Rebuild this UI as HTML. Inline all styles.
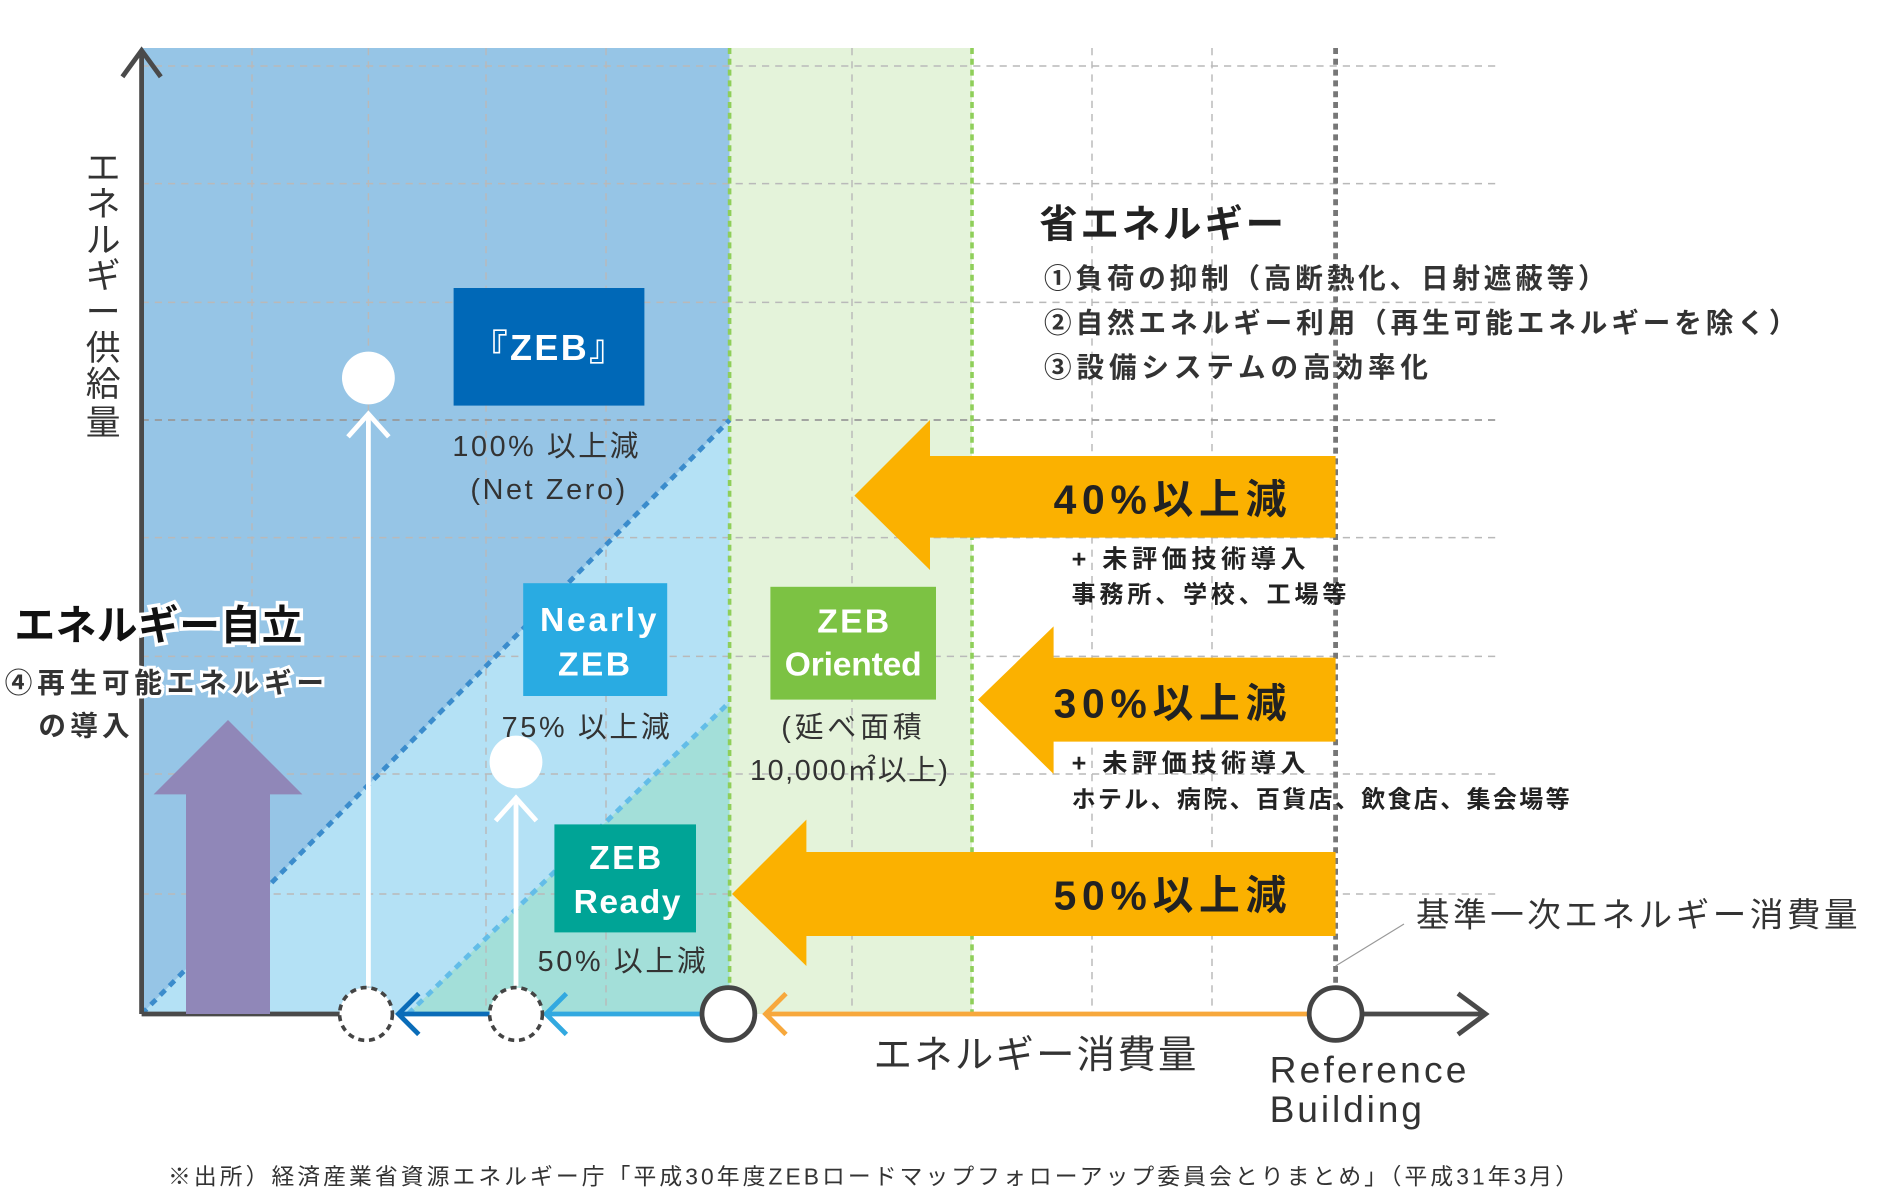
<!DOCTYPE html>
<html><head><meta charset="utf-8"><style>
html,body{margin:0;padding:0;background:#fff;}
svg{display:block}
text{font-family:"Liberation Sans","Noto Sans CJK JP",sans-serif;}
</style></head><body>
<svg width="1880" height="1200" viewBox="0 0 1566.67 1000" xmlns="http://www.w3.org/2000/svg">
<rect x="118" y="40" width="490" height="805" fill="#96c5e6"/>
<polygon points="118,845 608,350 608,845" fill="#b4e1f5"/>
<polygon points="340,845 608,585 608,845" fill="#a3dfd9"/>
<rect x="608" y="40" width="202" height="805" fill="#e4f3da"/>
<g stroke="#b9b9b9" stroke-width="1.2" stroke-dasharray="6,5" fill="none">
<line x1="118" y1="55" x2="1248" y2="55"/><line x1="118" y1="153" x2="1248" y2="153"/>
<line x1="118" y1="252" x2="1248" y2="252"/>
<line x1="118" y1="448" x2="1248" y2="448"/><line x1="118" y1="547" x2="1248" y2="547"/>
<line x1="118" y1="645" x2="1248" y2="645"/><line x1="118" y1="745" x2="1248" y2="745"/>
<line x1="210" y1="40" x2="210" y2="845"/><line x1="307" y1="40" x2="307" y2="845"/>
<line x1="405" y1="40" x2="405" y2="845"/><line x1="505" y1="40" x2="505" y2="845"/>
<line x1="710" y1="40" x2="710" y2="845"/><line x1="910" y1="40" x2="910" y2="845"/>
<line x1="1010" y1="40" x2="1010" y2="845"/>
</g>
<line x1="118" y1="350" x2="1248" y2="350" stroke="#999" stroke-width="1.5" stroke-dasharray="6,5"/>
<line x1="608" y1="40" x2="608" y2="845" stroke="#8fcf5a" stroke-width="3" stroke-dasharray="5,4"/>
<line x1="810" y1="40" x2="810" y2="845" stroke="#8fcf5a" stroke-width="3" stroke-dasharray="5,4"/>
<line x1="1113" y1="40" x2="1113" y2="820" stroke="#777" stroke-width="4" stroke-dasharray="5,4"/>
<line x1="118" y1="845" x2="608" y2="350" stroke="#3b8ccc" stroke-width="4" stroke-dasharray="6,5"/>
<line x1="340" y1="845" x2="608" y2="585" stroke="#63bde8" stroke-width="4" stroke-dasharray="6,5"/>
<line x1="1113" y1="805" x2="1170" y2="770" stroke="#999" stroke-width="1"/>
<path d="M118,845 V42 M102,64 L118,42 L134,64" stroke="#4a4a4a" stroke-width="4" fill="none"/>
<line x1="118" y1="845" x2="285" y2="845" stroke="#4a4a4a" stroke-width="4"/>
<path d="M1135,845 H1238 M1215,828 L1238,845 L1215,862" stroke="#4a4a4a" stroke-width="4" fill="none"/>
<path d="M640,845 H1090 M655,828 L638,845 L655,862" stroke="#f7a83c" stroke-width="4" fill="none"/>
<path d="M455,845 H585 M472,828 L455,845 L472,862" stroke="#32a9e0" stroke-width="4" fill="none"/>
<path d="M332,845 H408 M349,828 L332,845 L349,862" stroke="#0a6cb8" stroke-width="4" fill="none"/>
<polygon points="190,600 252,662 225,662 225,845 155,845 155,662 128,662" fill="#9087b8"/>
<path d="M307,822 V345 M290,364 L307,345 L324,364" stroke="#fff" stroke-width="4" fill="none"/>
<circle cx="307" cy="315" r="22" fill="#fff"/>
<path d="M430,822 V665 M413,684 L430,665 L447,684" stroke="#fff" stroke-width="4" fill="none"/>
<circle cx="430" cy="635" r="22" fill="#fff"/>
<circle cx="305" cy="845" r="22" fill="#fff" stroke="#444" stroke-width="3" stroke-dasharray="5,4"/>
<circle cx="430" cy="845" r="22" fill="#fff" stroke="#444" stroke-width="3" stroke-dasharray="5,4"/>
<circle cx="607" cy="845" r="22" fill="#fff" stroke="#444" stroke-width="4"/>
<circle cx="1113" cy="845" r="22" fill="#fff" stroke="#444" stroke-width="4"/>
<polygon points="712,413 775,350 775,380 1113,380 1113,448 775,448 775,475" fill="#fbb100"/>
<polygon points="815,583 878,522 878,548 1113,548 1113,618 878,618 878,645" fill="#fbb100"/>
<polygon points="610,745 672,683 672,710 1113,710 1113,780 672,780 672,805" fill="#fbb100"/>
<g font-weight="bold" font-size="34" fill="#222">
<text x="878" y="428" textLength="194">40%以上減</text>
<text x="878" y="598" textLength="194">30%以上減</text>
<text x="878" y="758" textLength="194">50%以上減</text>
</g>
<g font-weight="bold" font-size="21" fill="#222">
<text x="893" y="473" textLength="195">+ 未評価技術導入</text>
<text x="893" y="643" textLength="195">+ 未評価技術導入</text>
<text x="893" y="502" font-size="20" textLength="229">事務所、学校、工場等</text>
<text x="893" y="673" font-size="20" textLength="415">ホテル、病院、百貨店、飲食店、集会場等</text>
</g>
<rect x="378" y="240" width="159" height="98" fill="#0068b7"/>
<text x="458" y="300" font-size="30" font-weight="bold" fill="#fff" text-anchor="middle" letter-spacing="2">『ZEB』</text>
<rect x="436" y="486" width="120" height="94" fill="#29abe2"/>
<text x="450" y="526" font-size="28" font-weight="bold" fill="#fff" textLength="97">Nearly</text>
<text x="496" y="563" font-size="28" font-weight="bold" fill="#fff" text-anchor="middle" letter-spacing="2">ZEB</text>
<rect x="642" y="489" width="138" height="94" fill="#7cc243"/>
<text x="712" y="527" font-size="28" font-weight="bold" fill="#fff" text-anchor="middle" letter-spacing="2">ZEB</text>
<text x="654" y="563" font-size="28" font-weight="bold" fill="#fff" textLength="114">Oriented</text>
<rect x="462" y="687" width="118" height="90" fill="#00a496"/>
<text x="522" y="724" font-size="28" font-weight="bold" fill="#fff" text-anchor="middle" letter-spacing="2">ZEB</text>
<text x="478" y="761" font-size="28" font-weight="bold" fill="#fff" textLength="89">Ready</text>
<g font-size="24" fill="#333">
<text x="377" y="380" textLength="155">100% 以上減</text>
<text x="392" y="416" textLength="129">(Net Zero)</text>
<text x="418" y="614" textLength="140">75% 以上減</text>
<text x="448" y="809" textLength="140">50% 以上減</text>
<text x="651" y="614" textLength="117">(延べ面積</text>
<text x="625" y="650" textLength="165">10,000㎡以上)</text>
</g>
<text x="866" y="198" font-size="32" font-weight="bold" fill="#222" textLength="204">省エネルギー</text>
<g font-size="23" font-weight="bold" fill="#333">
<text x="870" y="240" textLength="468">①負荷の抑制（高断熱化、日射遮蔽等）</text>
<text x="870" y="277" textLength="627">②自然エネルギー利用（再生可能エネルギーを除く）</text>
<text x="870" y="314" textLength="320">③設備システムの高効率化</text>
</g>
<text x="1180" y="772" font-size="28" fill="#333" textLength="368">基準一次エネルギー消費量</text>
<text x="728" y="890" font-size="32" fill="#333" textLength="269">エネルギー消費量</text>
<text x="1058" y="902" font-size="31" fill="#333" textLength="164">Reference</text>
<text x="1058" y="935" font-size="31" fill="#333" textLength="127">Building</text>
<g font-size="29" fill="#333" text-anchor="middle">
<text x="86" y="150">エ</text><text x="86" y="180">ネ</text><text x="86" y="210">ル</text><text x="86" y="240">ギ</text>
<text x="86" y="270">ー</text><text x="86" y="300">供</text><text x="86" y="330">給</text><text x="86" y="362">量</text>
</g>
<text x="12" y="533" font-size="34" font-weight="bold" fill="#111" stroke="#fff" stroke-width="6" paint-order="stroke" textLength="240">エネルギー自立</text>
<text x="4" y="577" font-size="23" font-weight="bold" fill="#333" stroke="#fff" stroke-width="5" paint-order="stroke" textLength="266">④再生可能エネルギー</text>
<text x="32" y="613" font-size="23" font-weight="bold" fill="#333" textLength="76">の導入</text>
<text x="140" y="987" font-size="19" fill="#333" textLength="1175">※出所）経済産業省資源エネルギー庁「平成30年度ZEBロードマップフォローアップ委員会とりまとめ」（平成31年3月）</text>
</svg>
</body></html>
